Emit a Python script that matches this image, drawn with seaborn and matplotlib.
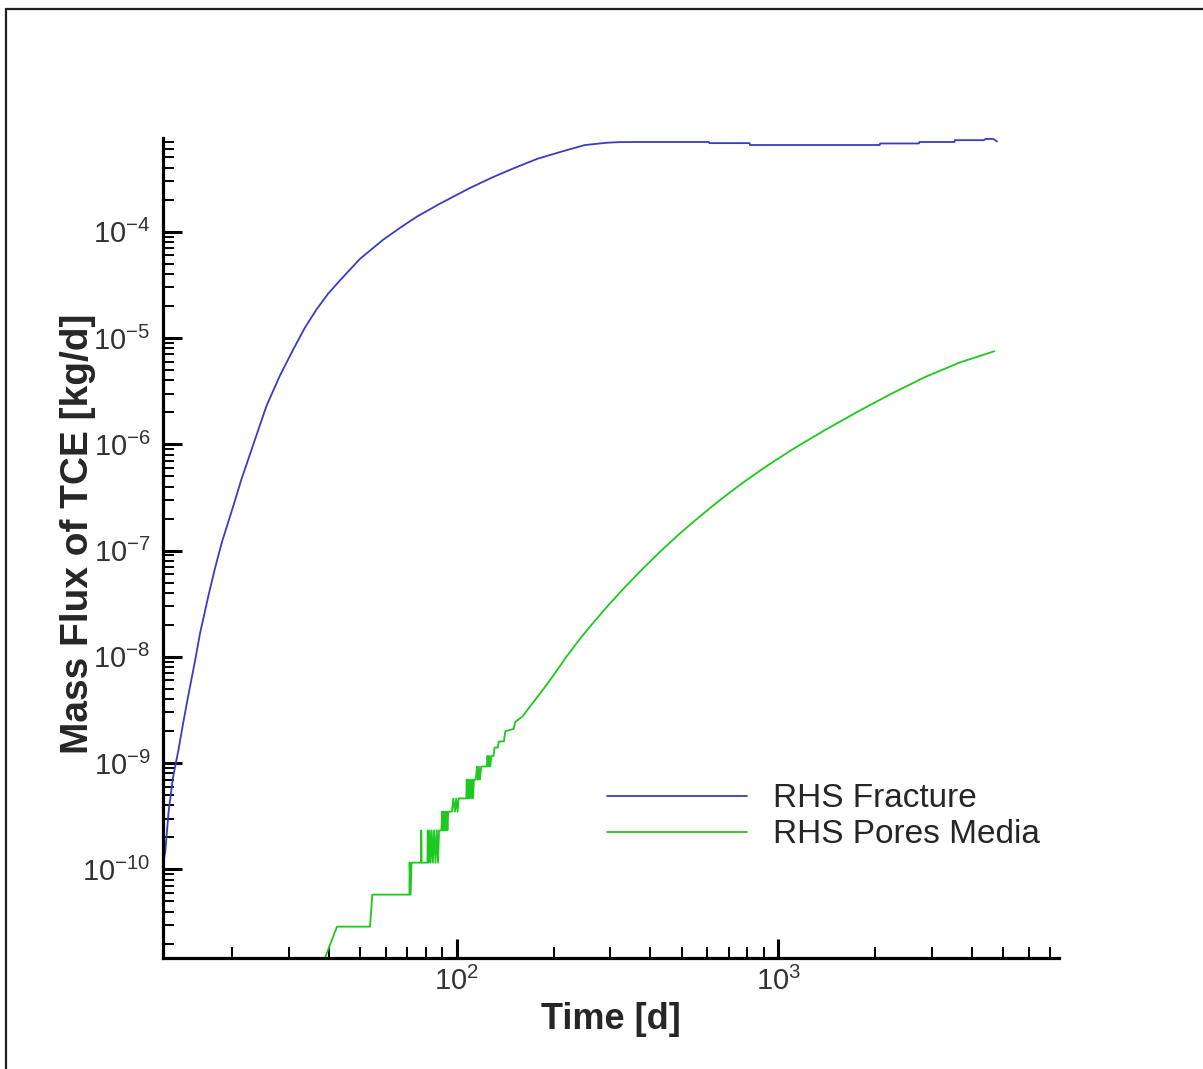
import numpy as np
import pandas as pd
import matplotlib
matplotlib.use("Agg")
import matplotlib.pyplot as plt
import matplotlib.ticker as mticker
from matplotlib.patches import Rectangle
import seaborn as sns

# ---- data ----
frac_t = [12.25, 12.4, 12.7, 13.1, 13.6, 14.1, 14.5, 15.4, 15.9, 16.9, 17.7,
          18.6, 20.2, 21.4, 23.6, 25.6, 28.2, 31.0, 33.7, 36.6, 39.8, 43.4,
          50.0, 59.0, 66.5, 75.0, 88.5, 109.7, 128.4, 150.3, 178.5, 213.3,
          249.7, 292.5, 320.6, 352.0, 608.0, 610.0, 813.0, 815.0, 2065.0,
          2070.0, 2733.0, 2740.0, 3524.0, 3530.0, 4350.0, 4400.0, 4650.0,
          4780.0]
frac_flux = [1.2e-10, 1.47e-10, 3.5e-10, 7.3e-10, 1.29e-9, 2.4e-9, 3.8e-9,
             9.7e-9, 1.66e-8, 3.8e-8, 6.8e-8, 1.2e-7, 2.65e-7, 4.7e-7,
             1.12e-6, 2.3e-6, 4.45e-6, 7.8e-6, 1.25e-5, 1.85e-5, 2.61e-5,
             3.5e-5, 5.55e-5, 8.4e-5, 1.083e-4, 1.38e-4, 1.83e-4, 2.57e-4,
             3.22e-4, 3.95e-4, 4.86e-4, 5.70e-4, 6.52e-4, 6.86e-4, 6.95e-4,
             6.97e-4, 6.97e-4, 6.8e-4, 6.8e-4, 6.53e-4, 6.53e-4, 6.75e-4,
             6.75e-4, 6.97e-4, 6.97e-4, 7.25e-4, 7.25e-4, 7.45e-4, 7.45e-4,
             7.05e-4]

pore_t = [38.3, 42.4, 53.7, 54.6, 71.2, 71.3, 71.8, 72.3, 77.4, 77.5, 77.7,
          81.0, 81.2, 81.6, 82.2, 82.8, 83.5, 84.2, 85.0, 85.8, 86.6, 87.4,
          88.0, 89.5, 90.0, 90.5, 91.0, 91.5, 92.0, 92.5, 93.0, 93.5, 94.0,
          95.5, 96.5, 97.5, 98.6, 99.5, 100.5, 101.3, 102.0, 103.5, 107.0,
          107.3, 108.0, 108.5, 109.3, 110.0, 110.8, 111.5, 112.3, 113.0,
          114.5, 115.5, 116.3, 117.0, 118.0, 119.0, 121.0, 124.0, 124.5,
          125.3, 126.0, 127.0, 128.0, 130.0, 131.0, 134.0, 135.0, 140.0,
          141.5, 150.0, 152.0, 160.0, 173.0, 186.0, 199.0, 219.0, 241.0,
          265.0, 298.6, 336.0, 378.9, 427.0, 492.5, 568.0, 663.7, 774.0,
          926.5, 1107.0, 1406.0, 1787.0, 2265.0, 2876.0, 3673.0, 4690.0]
pore_flux = [1.3e-11, 2.9e-11, 2.9e-11, 5.8e-11, 5.8e-11, 1.16e-10, 5.8e-11,
             1.16e-10, 1.16e-10, 2.33e-10, 1.16e-10, 1.16e-10, 2.33e-10,
             1.16e-10, 2.33e-10, 1.16e-10, 2.33e-10, 1.16e-10, 2.33e-10,
             1.16e-10, 2.33e-10, 1.16e-10, 2.33e-10, 2.33e-10, 3.5e-10,
             2.33e-10, 3.5e-10, 2.33e-10, 3.5e-10, 2.33e-10, 3.5e-10,
             2.33e-10, 3.5e-10, 3.5e-10, 3.5e-10, 4.66e-10, 3.5e-10,
             4.66e-10, 3.5e-10, 4.66e-10, 4.66e-10, 4.66e-10, 4.66e-10,
             7.0e-10, 4.66e-10, 7.0e-10, 4.66e-10, 7.0e-10, 4.66e-10,
             7.0e-10, 4.66e-10, 7.0e-10, 7.0e-10, 9.3e-10, 7.0e-10, 9.3e-10,
             7.0e-10, 9.3e-10, 9.3e-10, 9.3e-10, 1.17e-9, 9.3e-10, 1.17e-9,
             9.3e-10, 1.17e-9, 1.17e-9, 1.4e-9, 1.4e-9, 1.6e-9, 1.6e-9,
             2.0e-9, 2.1e-9, 2.45e-9, 2.75e-9, 3.76e-9, 5.0e-9, 6.6e-9,
             1.0e-8, 1.47e-8, 2.08e-8, 3.16e-8, 4.66e-8, 6.77e-8, 9.66e-8,
             1.44e-7, 2.08e-7, 3.05e-7, 4.34e-7, 6.34e-7, 8.97e-7, 1.38e-6,
             2.07e-6, 3.03e-6, 4.33e-6, 5.9e-6, 7.5e-6]

series_labels = ["RHS Fracture", "RHS Pores Media"]
x_label = "Time [d]"
y_label = "Mass Flux of TCE [kg/d]"
x_major = [1e2, 1e3]
y_major = [1e-10, 1e-9, 1e-8, 1e-7, 1e-6, 1e-5, 1e-4]

df_frac = pd.DataFrame({"t": frac_t, "flux": frac_flux})
df_pore = pd.DataFrame({"t": pore_t, "flux": pore_flux})

# ---- style ----
sns.set_style("ticks")
plt.rcParams["font.family"] = ["Liberation Sans", "DejaVu Sans"]
plt.rcParams["mathtext.fontset"] = "custom"
plt.rcParams["mathtext.rm"] = "Liberation Sans"
plt.rcParams["mathtext.it"] = "Liberation Sans:italic"
plt.rcParams["mathtext.bf"] = "Liberation Sans:bold"
plt.rcParams["mathtext.default"] = "regular"

fig = plt.figure(figsize=(12.03, 10.69), dpi=100)
ax = fig.add_axes([163 / 1203, 1 - 958 / 1069, (1059 - 163) / 1203, (958 - 138) / 1069])
ax.set_xscale("log")
ax.set_yscale("log")

blue = "#3c3cc0"
green = "#1ec81e"
sns.lineplot(data=df_frac, x="t", y="flux", estimator=None, sort=False,
             color=blue, linewidth=1.3, label=series_labels[0], ax=ax)
sns.lineplot(data=df_pore, x="t", y="flux", estimator=None, sort=False,
             color=green, linewidth=1.3, label=series_labels[1], ax=ax)

ax.set_xlim(12.2, 7450)
ax.set_ylim(1.47e-11, 7.6e-4)

for s in ["top", "right"]:
    ax.spines[s].set_visible(False)
for s in ["left", "bottom"]:
    ax.spines[s].set_linewidth(2.3)
    ax.spines[s].set_color("black")


def sci_fmt(v, pos):
    e = int(round(np.log10(v)))
    return r"$10^{%d}$" % e


ax.xaxis.set_major_locator(mticker.FixedLocator(x_major))
ax.yaxis.set_major_locator(mticker.FixedLocator(y_major))
ax.xaxis.set_major_formatter(mticker.FuncFormatter(sci_fmt))
ax.yaxis.set_major_formatter(mticker.FuncFormatter(sci_fmt))
ax.xaxis.set_minor_locator(mticker.LogLocator(base=10, subs=np.arange(2, 10), numticks=100))
ax.yaxis.set_minor_locator(mticker.LogLocator(base=10, subs=np.arange(2, 10), numticks=100))
ax.xaxis.set_minor_formatter(mticker.NullFormatter())
ax.yaxis.set_minor_formatter(mticker.NullFormatter())

ax.tick_params(axis="both", which="major", direction="in", length=14,
               width=2.2, color="black", labelsize=21, labelcolor="#333333")
ax.tick_params(axis="both", which="minor", direction="in", length=8,
               width=1.4, color="black")
ax.tick_params(axis="y", which="major", pad=9)
ax.tick_params(axis="x", which="major", pad=6)

ax.set_xlabel(x_label, fontsize=26, fontweight="bold")
ax.set_ylabel(y_label, fontsize=28, fontweight="bold")
ax.xaxis.set_label_coords(0.5, -0.054)
ax.yaxis.set_label_coords(-0.075, 0.517)

leg = ax.legend(loc="upper left", bbox_to_anchor=(0.495, 0.213), frameon=False,
                fontsize=24, handlelength=4.2, handletextpad=0.8,
                labelspacing=0.15, borderpad=0, borderaxespad=0)
for line in leg.get_lines():
    line.set_linewidth(1.3)

# outer border (left and top edges visible, as in the reference)
fig.patches.append(Rectangle((6 / 1203, -0.05), 1.2, (1060 / 1069) + 0.05,
                             transform=fig.transFigure, fill=False,
                             edgecolor="#222222", linewidth=1.6, clip_on=False))

fig.savefig("out.png", dpi=100)
